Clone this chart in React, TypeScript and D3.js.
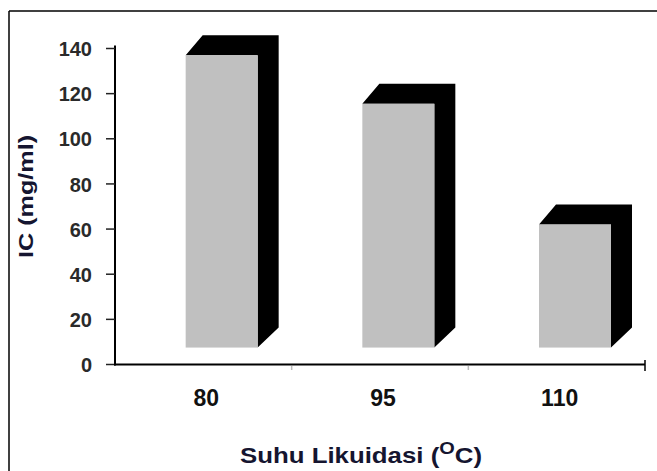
import React from "react";
import * as d3 from "d3";

const categories: string[] = ["80", "95", "110"];
const icValues: number[] = [137, 115.5, 62];
const yTicks: number[] = [0, 20, 40, 60, 80, 100, 120, 140];
const baseValue = 7.5;
const xTitle = "Suhu Likuidasi (";
const xTitleSup = "O";
const xTitleEnd = "C)";
const yTitle = "IC (mg/ml)";

const W = 657;
const H = 471;

export default function App() {
  const y = d3.scaleLinear().domain([0, 140]).range([364.5, 48.5]);
  const x = d3.scaleBand<string>().domain(categories).range([115, 645]).padding(0);
  const step = x.step();
  const frontOff = 0.4 * step;
  const frontW = 72;
  const dxL = 17;
  const dxR = 21;
  const dy = 20;
  const font = "'Liberation Sans', Arial, sans-serif";

  return (
    <svg
      width={W}
      height={H}
      style={{ position: "absolute", left: 0, top: 0, background: "#fff" }}
    >
      <rect x={0} y={0} width={W} height={H} fill="#fff" />
      {/* frame */}
      <line x1={9} y1={11} x2={W} y2={11} stroke="#000" strokeWidth={1.5} />
      <line x1={9} y1={11} x2={9} y2={H} stroke="#000" strokeWidth={1.5} />

      {/* bars */}
      {categories.map((c, i) => {
        const x0 = (x(c) as number) + frontOff;
        const x1 = x0 + frontW;
        const yt = y(icValues[i]);
        const yb = y(baseValue);
        const dark = [
          [x0, yt],
          [x0 + dxL, yt - dy],
          [x1 + dxR, yt - dy],
          [x1 + dxR, yb - dy],
          [x1, yb],
          [x1, yt],
        ]
          .map((p) => p.join(","))
          .join(" ");
        return (
          <g key={c}>
            <polygon points={dark} fill="#000" />
            <rect x={x0} y={yt} width={frontW} height={yb - yt} fill="#c0c0c0" />
          </g>
        );
      })}

      {/* y axis */}
      <line x1={115} y1={45.5} x2={115} y2={365.5} stroke="#000" strokeWidth={2} />
      {yTicks.map((t) => (
        <g key={t}>
          <line x1={106} x2={115} y1={y(t)} y2={y(t)} stroke="#222" strokeWidth={1.5} />
          <text
            x={92}
            y={y(t)}
            dy="0.38em"
            textAnchor="end"
            fontFamily={font}
            fontWeight="bold"
            fontSize={20}
            fill="#2a2a2a"
          >
            {t}
          </text>
        </g>
      ))}

      {/* x axis */}
      <line x1={114} y1={364.5} x2={645} y2={364.5} stroke="#000" strokeWidth={2} />
      {categories.map((c, i) => {
        const xe = (x(c) as number) + step;
        const last = i === categories.length - 1;
        return (
          <line
            key={"t" + c}
            x1={xe}
            x2={xe}
            y1={last ? 360 : 366}
            y2={last ? 371 : 370}
            stroke={last ? "#000" : "#bbb"}
            strokeWidth={1.5}
          />
        );
      })}
      {categories.map((c) => (
        <text
          key={"l" + c}
          x={(x(c) as number) + step / 2 + 3}
          y={406}
          textAnchor="middle"
          fontFamily={font}
          fontWeight="bold"
          fontSize={23}
          fill="#111"
        >
          {c}
        </text>
      ))}

      {/* titles */}
      <text
        x={240}
        y={463}
        fontFamily={font}
        fontWeight="bold"
        fontSize={22}
        fill="#151530"
        textLength={242}
        lengthAdjust="spacingAndGlyphs"
      >
        {xTitle}
        <tspan fontSize={17} dy={-9}>
          {xTitleSup}
        </tspan>
        <tspan dy={9}>{xTitleEnd}</tspan>
      </text>
      <text
        transform="translate(33,196.5) rotate(-90)"
        textAnchor="middle"
        fontFamily={font}
        fontWeight="bold"
        fontSize={21}
        fill="#151530"
        textLength={123}
        lengthAdjust="spacingAndGlyphs"
      >
        {yTitle}
      </text>
    </svg>
  );
}
